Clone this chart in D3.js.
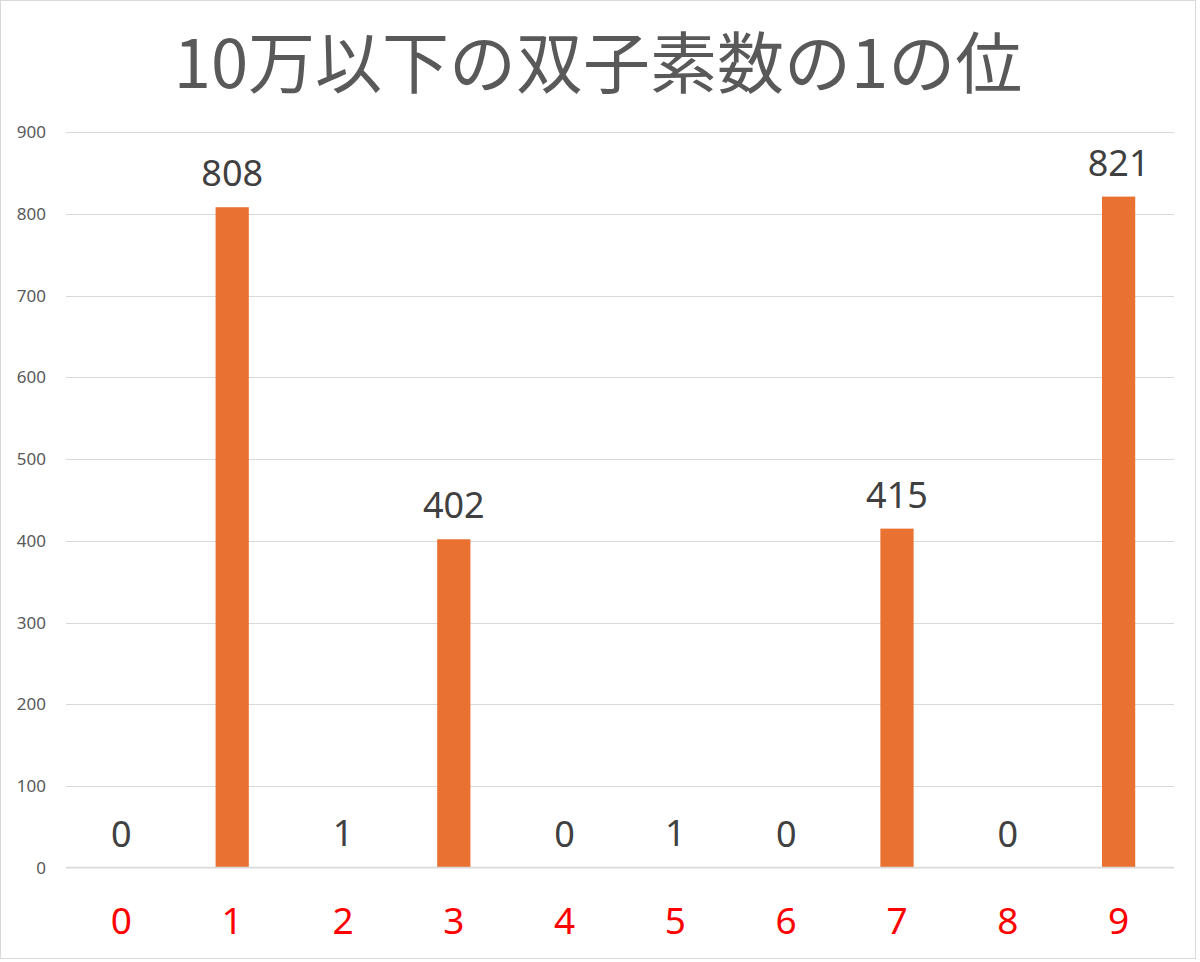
<!DOCTYPE html>
<html>
<head>
<meta charset="utf-8">
<script src="https://cdn.jsdelivr.net/npm/d3@7"></script>
<style>
  html, body { margin: 0; padding: 0; background: #fff; }
  svg { display: block; }
</style>
</head>
<body>
<div id="chart"></div>
<script>
// data
const titleText = "10万以下の双子素数の1の位";
const digits = ["0", "1", "2", "3", "4", "5", "6", "7", "8", "9"];
const counts = [0, 808, 1, 402, 0, 1, 0, 415, 0, 821];
const yTicks = [0, 100, 200, 300, 400, 500, 600, 700, 800, 900];

const width = 1200;
const height = 962;
const margin = { top: 132, right: 26, bottom: 94, left: 66 };

const svg = d3.select("#chart")
  .append("svg")
  .attr("width", width)
  .attr("height", height);

// outer border
svg.append("rect")
  .attr("x", 0.5).attr("y", 0.5)
  .attr("width", width - 5).attr("height", height - 4)
  .attr("fill", "#fff")
  .attr("stroke", "#d9d9d9");

// title
svg.append("text")
  .attr("x", 598)
  .attr("y", 88)
  .attr("text-anchor", "middle")
  .style("font-family", "'Noto Sans CJK JP', sans-serif")
  .style("font-size", "67px")
  .style("fill", "#595959")
  .text(titleText);

const x = d3.scaleBand()
  .domain(digits)
  .range([margin.left, width - margin.right])
  .paddingInner(0.7)
  .paddingOuter(0.35);

const y = d3.scaleLinear()
  .domain([0, 900])
  .range([height - margin.bottom, margin.top]);

// gridlines (the zero line is drawn later, above the bars)
svg.append("g")
  .selectAll("line")
  .data(yTicks.filter(d => d > 0))
  .enter()
  .append("line")
  .attr("x1", margin.left)
  .attr("x2", width - margin.right)
  .attr("y1", d => Math.round(y(d)) + 0.5)
  .attr("y2", d => Math.round(y(d)) + 0.5)
  .attr("stroke", "#d9d9d9")
  .attr("stroke-width", 1.2);

// y labels
svg.append("g")
  .selectAll("text")
  .data(yTicks)
  .enter()
  .append("text")
  .attr("x", 46)
  .attr("y", d => y(d) + 6)
  .attr("text-anchor", "end")
  .style("font-family", "'Noto Sans', sans-serif")
  .style("font-size", "17px")
  .style("fill", "#595959")
  .text(d => d);

// bars
svg.append("g")
  .selectAll("rect")
  .data(counts)
  .enter()
  .append("rect")
  .attr("x", (d, i) => x(digits[i]))
  .attr("y", d => y(d))
  .attr("width", x.bandwidth())
  .attr("height", d => y(0) - y(d))
  .attr("fill", "#E97132");

// zero line
svg.append("line")
  .attr("x1", margin.left)
  .attr("x2", width - margin.right)
  .attr("y1", Math.round(y(0)) - 0.4)
  .attr("y2", Math.round(y(0)) - 0.4)
  .attr("stroke", "#d9d9d9")
  .attr("stroke-width", 1.8);

// data labels
svg.append("g")
  .selectAll("text")
  .data(counts)
  .enter()
  .append("text")
  .attr("x", (d, i) => x(digits[i]) + x.bandwidth() / 2)
  .attr("y", d => y(d) - 21)
  .attr("text-anchor", "middle")
  .style("font-family", "'Noto Sans', sans-serif")
  .style("font-size", "36px")
  .style("fill", "#404040")
  .text(d => d);

// x labels
svg.append("g")
  .selectAll("text")
  .data(digits)
  .enter()
  .append("text")
  .attr("x", d => x(d) + x.bandwidth() / 2)
  .attr("y", 934)
  .attr("text-anchor", "middle")
  .style("font-family", "'Noto Sans', sans-serif")
  .style("font-size", "37px")
  .style("fill", "#ff0000")
  .text(d => d);
</script>
</body>
</html>
